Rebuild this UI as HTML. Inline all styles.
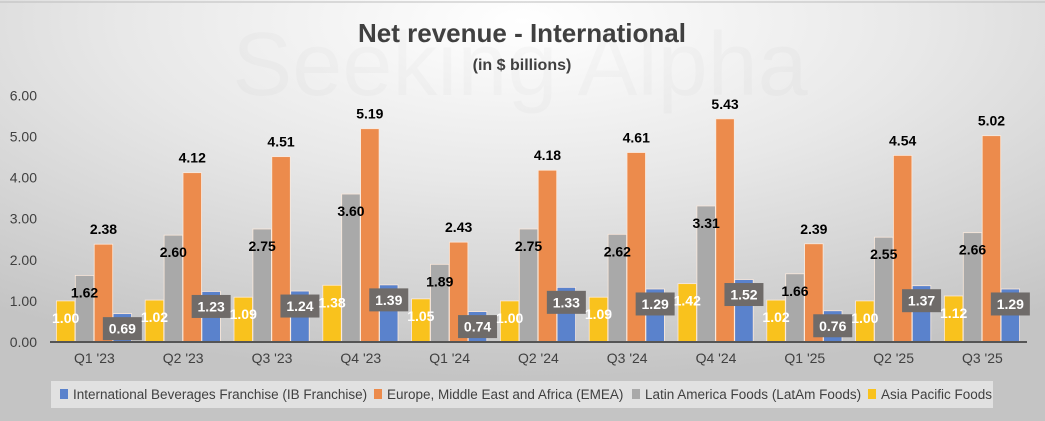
<!DOCTYPE html>
<html><head><meta charset="utf-8">
<style>
html,body{margin:0;padding:0;width:1045px;height:421px;overflow:hidden;background:#d4d4d4;}
svg{display:block;font-family:"Liberation Sans",Arial,sans-serif;}
</style></head>
<body>
<svg id="chart" width="1045" height="421" viewBox="0 0 1045 421">
<defs>
<radialGradient id="bg" cx="0.5" cy="0.05" r="0.85">
<stop offset="0" stop-color="#ffffff"/>
<stop offset="0.45" stop-color="#e8e8e8"/>
<stop offset="1" stop-color="#c4c4c4"/>
</radialGradient>
</defs>
<rect x="0" y="0" width="1045" height="421" fill="url(#bg)"/>
<line x1="0" y1="2" x2="1045" y2="2" stroke="#bdbdbd"/>
<text x="520" y="95" text-anchor="middle" font-size="90" fill="#000" fill-opacity="0.02">Seeking Alpha</text>
<text x="522" y="42" text-anchor="middle" font-size="26" font-weight="bold" fill="#404040">Net revenue - International</text>
<text x="522" y="70" text-anchor="middle" font-size="16" font-weight="bold" fill="#404040">(in $ billions)</text>
<g id="yaxis"></g>
<g id="bars"></g>
<g id="labels"></g>
<line x1="50" y1="342" x2="1027" y2="342" stroke="#555" stroke-width="2"/>
<g id="xlabels"></g>
<rect x="51" y="381" width="942" height="27" fill="#e6e6e6" fill-opacity="0.85"/>
<g id="legend"></g>
</svg>
<script>
const categories = ["Q1 '23","Q2 '23","Q3 '23","Q4 '23","Q1 '24","Q2 '24","Q3 '24","Q4 '24","Q1 '25","Q2 '25","Q3 '25"];
const asiaPacific = [1.00,1.02,1.09,1.38,1.05,1.00,1.09,1.42,1.02,1.00,1.12];
const latAm = [1.62,2.60,2.75,3.60,1.89,2.75,2.62,3.31,1.66,2.55,2.66];
const emea = [2.38,4.12,4.51,5.19,2.43,4.18,4.61,5.43,2.39,4.54,5.02];
const ibFranchise = [0.69,1.23,1.24,1.39,0.74,1.33,1.29,1.52,0.76,1.37,1.29];
const yTicks = [0,1,2,3,4,5,6];
const seriesNames = ["International Beverages Franchise (IB Franchise)","Europe, Middle East and Africa (EMEA)","Latin America Foods (LatAm Foods)","Asia Pacific Foods"];

const NS="http://www.w3.org/2000/svg";
const plotLeft=50, step=88.8, y0=342, pxPerUnit=41.1, barW=18.5, barStep=18.9;
function yScale(v){return y0 - v*pxPerUnit;}
function groupX(i){return plotLeft + i*step + 6.4;}
function mk(tag,attrs,parent){const e=document.createElementNS(NS,tag);for(const k in attrs)e.setAttribute(k,attrs[k]);parent.appendChild(e);return e;}

const yaxis=document.getElementById('yaxis');
yTicks.forEach(t=>{
  const e=mk('text',{x:37,y:yScale(t)+5,'text-anchor':'end','font-size':14,fill:'#404040'},yaxis);
  
  
  e.textContent=t.toFixed(2);
});

const bars=document.getElementById('bars');
const labels=document.getElementById('labels');
const xl=document.getElementById('xlabels');
const series=[
  {vals:asiaPacific,color:'#f9c21d',name:'asia-pacific'},
  {vals:latAm,color:'#a9a9a9',name:'latam'},
  {vals:emea,color:'#ec8b4c',name:'emea'},
  {vals:ibFranchise,color:'#5a82cc',name:'ib-franchise'}
];
categories.forEach((c,i)=>{
  const gx=groupX(i);
  series.forEach((s,k)=>{
    const v=s.vals[i];
    const x=gx+k*barStep, top=yScale(v);
    const r=mk('rect',{x:x,y:top,width:barW,height:y0-top,fill:s.color,stroke:'#fbe9dc','stroke-width':0.8},bars);
    
    
    const cx=x+barW/2;
    if(k===0){
      const t=mk('text',{x:cx,y:top+22,'text-anchor':'middle','font-size':14,'font-weight':'bold',fill:'#fff'},labels);
      
      
      t.textContent=v.toFixed(2);
    } else if(k===1){
      const t=mk('text',{x:cx,y:top+22,'text-anchor':'middle','font-size':14,'font-weight':'bold',fill:'#000'},labels);
      
      
      t.textContent=v.toFixed(2);
    } else if(k===2){
      const t=mk('text',{x:cx,y:top-10,'text-anchor':'middle','font-size':14,'font-weight':'bold',fill:'#000'},labels);
      
      
      t.textContent=v.toFixed(2);
    } else {
      const bc=top+15;
      const b=mk('rect',{x:cx-19.5,y:bc-11.5,width:39,height:23,fill:'#6f6b69'},labels);
      
      
      const t=mk('text',{x:cx,y:bc+5,'text-anchor':'middle','font-size':14,'font-weight':'bold',fill:'#fff'},labels);
      
      
      t.textContent=v.toFixed(2);
    }
  });
  const t=mk('text',{x:gx+38,y:363,'text-anchor':'middle','font-size':14,fill:'#404040'},xl);
  
  
  t.textContent=c;
});

const legend=document.getElementById('legend');
const legendColors=['#5a82cc','#ec8b4c','#a9a9a9','#f9c21d'];
const legendX=[60,374,632,868];
seriesNames.forEach((n,i)=>{
  const r=mk('rect',{x:legendX[i],y:389,width:8,height:10,fill:legendColors[i]},legend);
  
  
  const t=mk('text',{x:legendX[i]+13,y:399,'font-size':13.5,fill:'#404040'},legend);
  
  
  t.textContent=n;
});
</script>
</body></html>
